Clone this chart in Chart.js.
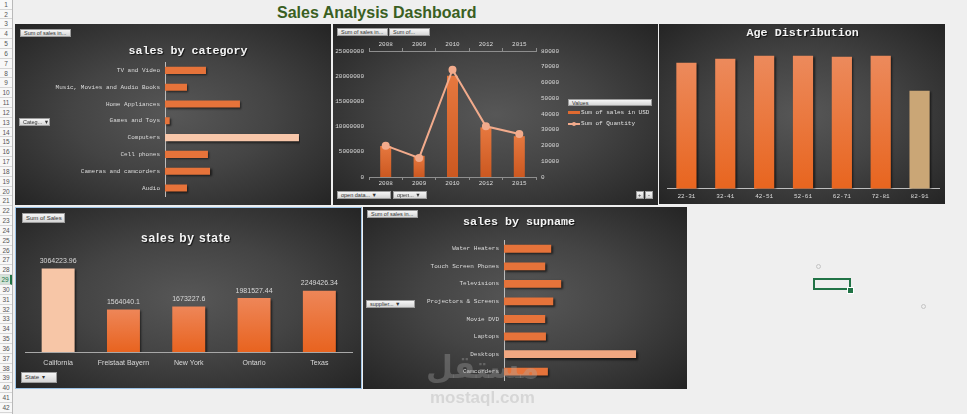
<!DOCTYPE html>
<html>
<head>
<meta charset="utf-8">
<title>Sales Analysis Dashboard</title>
<script src="https://cdn.jsdelivr.net/npm/chart.js@4.4.0/dist/chart.umd.min.js"></script>
<style>
    body { margin: 0; width: 967px; height: 414px; background: #efefef; overflow: hidden; position: relative;
        font-family: "Liberation Sans", Arial, sans-serif; }
    #rows { position: absolute; left: 0; top: 0; width: 12px; height: 414px; background: #f8f8f8; border-right: 1px solid #b9b9b9; }
    .row { position: absolute; left: 0; width: 12px; height: 9.85px; border-bottom: 1px solid #d6d6d6; box-sizing: border-box;
        font-size: 6.5px; line-height: 9px; color: #555; text-align: center; }
    .row.active { background: #d3e3d8; color: #217346; border-right: 2px solid #217346; }
    #title { position: absolute; left: 277px; top: 4px; font-weight: bold; font-size: 16px; color: #3a5f22; white-space: nowrap; }
    .panel { position: absolute; overflow: hidden;
        background: radial-gradient(farthest-corner at 50% 50%, #575757 0%, #444 45%, #242424 100%); }
    .panel canvas { position: absolute; left: 0; top: 0; }
    .btn { position: absolute; height: 8px; box-sizing: border-box; background: linear-gradient(#f6f6f6, #d6d6d6);
        border: 1px solid #9c9c9c; font-size: 5.5px; line-height: 6px; color: #333; padding-left: 3px; white-space: nowrap; }
    .legend { position: absolute; font-family: "Liberation Mono", monospace; font-size: 6px; color: #e0e0e0; white-space: nowrap; }
    .swatch { position: absolute; }
    #sel { position: absolute; left: 813px; top: 278px; width: 38px; height: 12px; border: 2px solid #217346; box-sizing: border-box; }
    #handle { position: absolute; left: 847px; top: 287px; width: 5px; height: 5px; background: #217346; border: 1px solid #fff; }
    .dot { position: absolute; width: 3px; height: 3px; border: 1px solid #c4c4c4; border-radius: 50%; }
    #mark { position: absolute; left: 426px; top: 347px; color: rgba(170,170,170,0.35); font-family: "DejaVu Sans", sans-serif;
        font-weight: bold; font-size: 31px; line-height: 40px; }
    #markUrl { position: absolute; left: 430px; top: 389px; color: rgba(170,170,170,0.35); font-size: 17px; line-height: 17px; font-weight: bold; }
</style>
</head>
<body>
<div id="rows"></div>
<div id="title">Sales Analysis Dashboard</div>

<div class="panel" style="left:15px; top:24px; width:316px; height:181px;">
    <canvas id="categoryChart" width="316" height="181"></canvas>
    <div class="btn" style="left:5px; top:5px; width:51px;">Sum of sales in...</div>
    <div class="btn" style="left:4px; top:94px; width:31px;">Categ... &#9660;</div>
</div>

<div class="panel" style="left:333px; top:24px; width:325px; height:181px;">
    <canvas id="yearChart" width="233" height="181"></canvas>
    <div class="btn" style="left:4px; top:4px; width:51px;">Sum of sales in...</div>
    <div class="btn" style="left:56px; top:4px; width:41px;">Sum of...</div>
    <div class="btn" style="left:4px; top:167px; width:54px;">open data... &#9660;</div>
    <div class="btn" style="left:60px; top:167px; width:34px;">open... &#9660;</div>
    <div class="btn" style="left:303px; top:167px; width:8px; padding-left:1px;">+</div>
    <div class="btn" style="left:312px; top:167px; width:8px; padding-left:2px;">-</div>
    <div class="btn" style="left:235px; top:75px; width:84px; height:7px;">Values</div>
    <div class="swatch" style="left:235px; top:87px; width:12px; height:3px; background:#e06a30;"></div>
    <div class="legend" style="left:248px; top:85px;">Sum of sales in USD</div>
    <div class="swatch" style="left:235px; top:99px; width:12px; height:2px; background:#f2ab8c;"></div>
    <div class="swatch" style="left:239px; top:98px; width:4px; height:4px; border-radius:50%; background:#f2ab8c;"></div>
    <div class="legend" style="left:248px; top:96px;">Sum of Quantity</div>
</div>

<div class="panel" style="left:659px; top:24px; width:286px; height:180px;">
    <canvas id="ageChart" width="286" height="180"></canvas>
</div>

<div class="panel" style="left:15px; top:207px; width:347px; height:182px; outline:1px solid #9cc2e5; outline-offset:-1px;">
    <canvas id="stateChart" width="347" height="182"></canvas>
    <div class="btn" style="left:7px; top:6px; width:43px; height:10px; line-height:8px; font-size:6px;">Sum of Sales</div>
    <div class="btn" style="left:6px; top:165px; width:36px; height:11px; line-height:9px; font-size:6px;">State &nbsp;&#9662;</div>
</div>

<div class="panel" style="left:363px; top:207px; width:324px; height:182px;">
    <canvas id="supplierChart" width="324" height="182"></canvas>
    <div class="btn" style="left:4px; top:3px; width:51px;">Sum of sales in...</div>
    <div class="btn" style="left:3px; top:93px; width:49px;">supplier... &#9660;</div>
</div>

<div id="sel"></div>
<div id="handle"></div>
<div class="dot" style="left:816px; top:264px;"></div>
<div class="dot" style="left:921px; top:304px;"></div>

<div id="mark">مستقل</div>
<div id="markUrl">mostaql.com</div>

<script>
    const categoryLabels = ["TV and Video", "Music, Movies and Audio Books", "Home Appliances", "Games and Toys",
        "Computers", "Cell phones", "Cameras and camcorders", "Audio"];
    const categorySales = [5160000, 2770000, 9440000, 590000, 16870000, 5410000, 5670000, 2770000];

    const years = ["2008", "2009", "2010", "2012", "2015"];
    const yearSales = [6150000, 4200000, 20100000, 9850000, 8100000];
    const yearQuantity = [19900, 12100, 68100, 32200, 27300];

    const ageLabels = ["22-31", "32-41", "42-51", "52-61", "62-71", "72-81", "82-91"];
    const ageCounts = [126, 130, 133, 133, 132, 133, 98];

    const stateLabels = ["California", "Freistaat Bayern", "New York", "Ontario", "Texas"];
    const stateSales = [3064223.96, 1564040.1, 1673227.6, 1981527.44, 2249426.34];

    const supplierLabels = ["Water Heaters", "Touch Screen Phones", "Televisions", "Projectors & Screens",
        "Movie DVD", "Laptops", "Desktops", "Camcorders"];
    const supplierSales = [5820000, 5080000, 7050000, 6070000, 5080000, 5170000, 16280000, 5410000];

    const MONO = '"Liberation Mono", "Courier New", monospace';
    const SANS = '"Liberation Sans", Arial, sans-serif';
    const LABEL_COLOR = "#dcdcdc";
    const AXIS_COLOR = "#bdbdbd";

    // spreadsheet row numbers down the left
    const rows = document.getElementById("rows");
    for (let i = 1; i <= 42; i++) {
        const r = document.createElement("div");
        r.className = "row" + (i == 29 ? " active" : "");
        r.style.top = ((i - 1) * 9.83 - 0.2) + "px";
        r.textContent = i;
        rows.appendChild(r);
    }

    // titles are drawn by hand so they can sit where excel put them
    const panelTitle = {
        id: "panelTitle",
        afterDraw(chart, args, opts) {
            const ctx = chart.ctx;
            ctx.save();
            ctx.font = opts.font;
            ctx.fillStyle = "#f4f4f4";
            ctx.textAlign = "center";
            ctx.textBaseline = "middle";
            ctx.letterSpacing = (opts.spacing || 0) + "px";
            ctx.shadowColor = "rgba(0,0,0,0.7)";
            ctx.shadowOffsetX = 1;
            ctx.shadowOffsetY = 1;
            ctx.shadowBlur = 1;
            ctx.fillText(opts.text, opts.x, opts.y);
            ctx.restore();
        }
    };

    // soft drop shadow under the bars
    const barShadow = {
        id: "barShadow",
        beforeDatasetDraw(chart, args) {
            if (args.meta.type !== "bar") return;
            const ctx = chart.ctx;
            ctx.save();
            ctx.shadowColor = "rgba(0,0,0,0.6)";
            ctx.shadowOffsetX = 1.5;
            ctx.shadowOffsetY = 1.5;
            ctx.shadowBlur = 2;
        },
        afterDatasetDraw(chart, args) {
            if (args.meta.type !== "bar") return;
            chart.ctx.restore();
        }
    };

    const valueLabels = {
        id: "valueLabels",
        afterDatasetsDraw(chart) {
            const ctx = chart.ctx;
            const meta = chart.getDatasetMeta(0);
            ctx.save();
            ctx.font = "7px " + SANS;
            ctx.fillStyle = "#d9d9d9";
            ctx.textAlign = "center";
            ctx.textBaseline = "middle";
            meta.data.forEach(function(bar, i) {
                ctx.fillText(String(chart.data.datasets[0].data[i]), bar.x, bar.y - 7.5);
            });
            ctx.restore();
        }
    };

    function highlightColors(values, highlight, normal, special) {
        const colors = [];
        for (let i = 0; i < values.length; i++) {
            colors.push(i == highlight ? special : normal);
        }
        return colors;
    }

    // vertical gradient per bar, lighter at the top
    function barGradient(highlight, special, top, bottom) {
        return function(context) {
            const chart = context.chart;
            const {ctx, chartArea} = chart;
            if (!chartArea) return;
            if (context.dataIndex == highlight) return special;
            const y = chart.scales[context.dataset.yAxisID || "y"];
            const y0 = y.getPixelForValue(context.raw);
            const y1 = y.getPixelForValue(0);
            const g = ctx.createLinearGradient(0, y0, 0, y1);
            g.addColorStop(0, top);
            g.addColorStop(1, bottom);
            return g;
        };
    }

    function plainNumber(value) {
        return String(value);
    }

    function hBarConfig(labels, values, highlight, special, xMax, labelWidth, padding, thickness, title) {
        return {
            type: "bar",
            data: {
                labels: labels,
                datasets: [{
                    data: values,
                    backgroundColor: highlightColors(values, highlight, "#e6733a", special),
                    barPercentage: thickness,
                    categoryPercentage: 1
                }]
            },
            options: {
                indexAxis: "y",
                responsive: false,
                animation: false,
                devicePixelRatio: 1,
                layout: { padding: padding },
                plugins: { legend: { display: false }, tooltip: { enabled: false }, panelTitle: title },
                scales: {
                    x: { display: false, min: 0, max: xMax },
                    y: {
                        grid: { display: false, drawTicks: false },
                        border: { color: AXIS_COLOR },
                        ticks: { color: LABEL_COLOR, font: { family: MONO, size: 6 }, padding: 5 },
                        afterFit: function(scale) { scale.width = labelWidth; }
                    }
                }
            },
            plugins: [panelTitle, barShadow]
        };
    }

    new Chart(document.getElementById("categoryChart"), hBarConfig(
        categoryLabels, categorySales, 4, "#f8c7aa", 17000000, 150,
        { top: 38, bottom: 7.3, right: 31, left: 0 }, 0.42,
        { text: "sales by category", font: "bold 11.7px " + MONO, x: 173, y: 27 }
    ));

    new Chart(document.getElementById("supplierChart"), hBarConfig(
        supplierLabels, supplierSales, 6, "#f0a781", 18000000, 141,
        { top: 33, bottom: 6.3, right: 37, left: 0 }, 0.45,
        { text: "sales by supname", font: "bold 11.7px " + MONO, x: 156, y: 15 }
    ));

    // sales + quantity per year, two y axes and the years on top and bottom
    const yearAxisX = function(pos) {
        return {
            type: "category",
            labels: years,
            position: pos,
            offset: true,
            grid: { display: true, drawOnChartArea: false, offset: true, tickLength: 3, color: "#8e8e8e" },
            border: { color: "#8e8e8e" },
            ticks: { color: LABEL_COLOR, font: { family: MONO, size: 6 }, padding: 0 },
            afterFit: function(scale) { scale.height = 11; }
        };
    };

    new Chart(document.getElementById("yearChart"), {
        data: {
            labels: years,
            datasets: [{
                type: "line",
                label: "Sum of Quantity",
                data: yearQuantity,
                yAxisID: "y2",
                borderColor: "#f2ab8c",
                backgroundColor: "#f2ab8c",
                borderWidth: 2,
                pointRadius: 3,
                order: 0
            }, {
                type: "bar",
                label: "Sum of sales in USD",
                data: yearSales,
                yAxisID: "y",
                backgroundColor: barGradient(-1, null, "#e6783f", "#cc5820"),
                barPercentage: 0.33,
                categoryPercentage: 1,
                order: 1
            }]
        },
        options: {
            responsive: false,
            animation: false,
            devicePixelRatio: 1,
            layout: { padding: { top: 16, bottom: 17, left: 0, right: 0 } },
            plugins: { legend: { display: false }, tooltip: { enabled: false } },
            scales: {
                x: yearAxisX("bottom"),
                x2: yearAxisX("top"),
                y: {
                    position: "left",
                    min: 0, max: 25000000,
                    grid: { display: false, drawTicks: false },
                    border: { display: false },
                    ticks: { stepSize: 5000000, color: LABEL_COLOR, font: { family: MONO, size: 6 }, padding: 5, callback: plainNumber },
                    afterFit: function(scale) { scale.width = 36; }
                },
                y2: {
                    position: "right",
                    min: 0, max: 80000,
                    grid: { display: false, drawTicks: false },
                    border: { display: false },
                    ticks: { stepSize: 10000, color: LABEL_COLOR, font: { family: MONO, size: 6 }, padding: 5, callback: plainNumber },
                    afterFit: function(scale) { scale.width = 30; }
                }
            }
        }
    });

    new Chart(document.getElementById("ageChart"), {
        type: "bar",
        data: {
            labels: ageLabels,
            datasets: [{
                data: ageCounts,
                backgroundColor: barGradient(6, "#caa676", "#ec8a5c", "#e8651f"),
                barPercentage: 0.52,
                categoryPercentage: 1
            }]
        },
        options: {
            responsive: false,
            animation: false,
            devicePixelRatio: 1,
            layout: { padding: { top: 24.7, bottom: 3.3, left: 8, right: 6 } },
            plugins: {
                legend: { display: false }, tooltip: { enabled: false },
                panelTitle: { text: "Age Distribution", font: "bold 11.7px " + MONO, x: 143.7, y: 9 }
            },
            scales: {
                x: {
                    grid: { display: false, drawTicks: false },
                    border: { color: AXIS_COLOR },
                    ticks: { color: LABEL_COLOR, font: { family: MONO, size: 6 }, padding: 4 },
                    afterFit: function(scale) { scale.height = 12; }
                },
                y: { display: false, min: 0, max: 140 }
            }
        },
        plugins: [panelTitle, barShadow]
    });

    new Chart(document.getElementById("stateChart"), {
        type: "bar",
        data: {
            labels: stateLabels,
            datasets: [{
                data: stateSales,
                backgroundColor: barGradient(0, "#f7c6a7", "#ee8658", "#e8631f"),
                barPercentage: 0.505,
                categoryPercentage: 1
            }]
        },
        options: {
            responsive: false,
            animation: false,
            devicePixelRatio: 1,
            layout: { padding: { top: 55.2, bottom: 17, left: 10.5, right: 10 } },
            plugins: {
                legend: { display: false }, tooltip: { enabled: false },
                panelTitle: { text: "sales by state", font: "bold 12px " + SANS, spacing: 0.8, x: 171, y: 32 }
            },
            scales: {
                x: {
                    grid: { display: false, drawTicks: false },
                    border: { color: "#a8a8a8" },
                    ticks: { color: "#d9d9d9", font: { family: SANS, size: 7 }, padding: 6.5 },
                    afterFit: function(scale) { scale.height = 20; }
                },
                y: { display: false, min: 0, max: 3300000 }
            }
        },
        plugins: [panelTitle, barShadow, valueLabels]
    });
</script>
</body>
</html>
